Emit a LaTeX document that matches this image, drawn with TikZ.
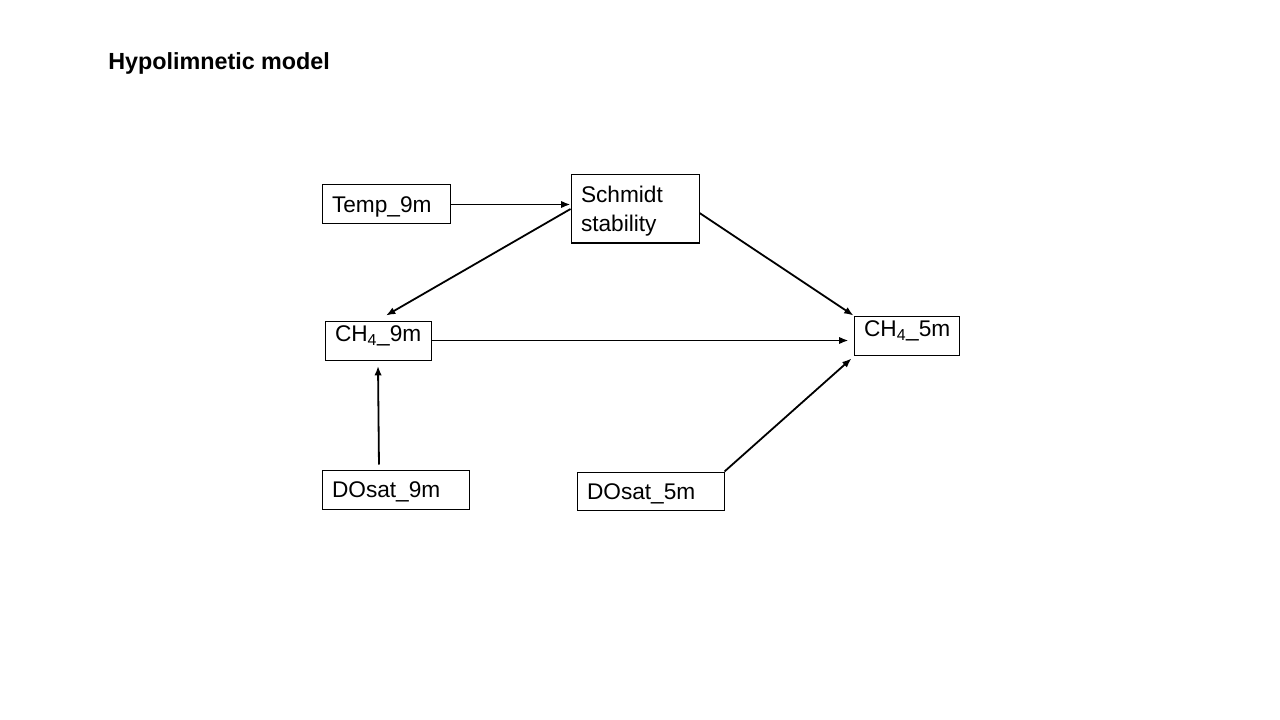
\documentclass[tikz,border=0pt]{standalone}
\usepackage{fontspec}
\setmainfont{Liberation Sans}
\usetikzlibrary{arrows.meta}

\tikzset{
	var/.style={draw, line width=0.75pt, align=left, inner xsep=7.5pt, inner ysep=0pt,
		minimum height=29.25pt, text height=12.2pt, text depth=0pt,
		font=\fontsize{17}{21.75}\selectfont},
	link/.style={-{Latex[length=7pt,width=5.5pt]}, line width=1.35pt},
}

\begin{document}
\begin{tikzpicture}[x=0.75pt, y=-0.75pt]
	\useasboundingbox (0,0) rectangle (1280,720);
	\node[anchor=west, inner sep=0pt, font=\fontsize{17.5}{21}\selectfont\bfseries] (title) at (108,63) {Hypolimnetic model};
	\node[var, text width=81pt] (temp) at (386,204.5) {Temp\_9m};
	\node[var, text width=81pt, minimum height=51pt, text depth=21.75pt] (schmidt) at (635,209) {Schmidt\\stability};
	\node[var, text width=64.5pt, text depth=10pt] (chnine) at (378,340.5) {CH\textsubscript{4}\_9m};
	\node[var, text width=63.75pt, text depth=10pt] (chfive) at (906.5,335.5) {CH\textsubscript{4}\_5m};
	\node[var, text width=95.25pt] (dosatnine) at (395.5,489.5) {DOsat\_9m};
	\node[var, text width=95.25pt, minimum height=28.5pt] (dosatfive) at (650.5,491) {DOsat\_5m};
	\draw[link] (temp) -- (schmidt.west |- temp);
	\draw[link] (schmidt.west) -- ([xshift=6pt,yshift=3.75pt]chnine.north);
	\draw[link] ([yshift=-3pt]schmidt.east) -- (chfive.north west);
	\draw[link] (chnine.east) -- ([xshift=-3.75pt]chnine.east -| chfive.west);
	\draw[link] ([xshift=-12.4pt,yshift=3.75pt]dosatnine.north) -- ([yshift=-4.1pt]chnine.south);
	\draw[link] (dosatfive.north east) -- ([xshift=-1.5pt,yshift=-2.25pt]chfive.south west);
\end{tikzpicture}
\end{document}
